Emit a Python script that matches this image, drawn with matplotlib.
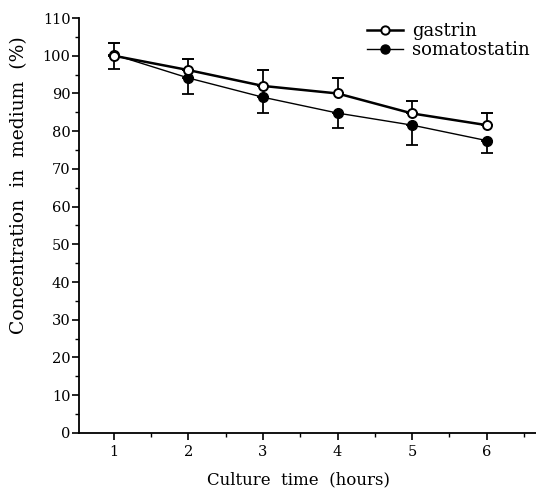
import numpy as np
import matplotlib
matplotlib.use("Agg")
import matplotlib.pyplot as plt
from matplotlib.ticker import MultipleLocator
from matplotlib.lines import Line2D

plt.rcParams['font.family'] = ['DejaVu Serif']

hours = [1, 2, 3, 4, 5, 6]
gastrin = [100.0, 96.2, 92.0, 90.0, 84.7, 81.6]
gastrin_err_up = [3.5, 3.0, 4.2, 4.2, 3.3, 3.1]
somatostatin = [100.3, 94.1, 89.0, 84.8, 81.6, 77.5]
somatostatin_err_down = [3.8, 4.3, 4.3, 3.9, 5.3, 3.2]

fig = plt.figure(figsize=(5.36, 4.88), dpi=100)
ax = fig.add_axes([0.147, 0.113, 0.853, 0.85])

ax.errorbar(hours, gastrin, yerr=[np.zeros(len(hours)), gastrin_err_up],
            color='black', lw=1.8, marker='o', ms=6.5, mfc='white', mec='black', mew=1.4,
            ecolor='black', elinewidth=1.3, capsize=4, capthick=1.3, zorder=3)
ax.errorbar(hours, somatostatin, yerr=[somatostatin_err_down, np.zeros(len(hours))],
            color='black', lw=1.0, marker='o', ms=7, mfc='black', mec='black',
            ecolor='black', elinewidth=1.3, capsize=4, capthick=1.3, zorder=2)

ax.set_xlim(0.53, 6.66)
ax.set_ylim(0, 110)
ax.xaxis.set_major_locator(MultipleLocator(1))
ax.xaxis.set_minor_locator(MultipleLocator(0.5))
ax.yaxis.set_major_locator(MultipleLocator(10))
ax.yaxis.set_minor_locator(MultipleLocator(5))
ax.spines['top'].set_visible(False)
ax.spines['right'].set_visible(False)
ax.spines['left'].set_linewidth(1.3)
ax.spines['bottom'].set_linewidth(1.3)
ax.tick_params(which='major', length=5, width=1.2, labelsize=10.5, pad=1)
ax.tick_params(which='minor', length=3, width=1.0)
ax.tick_params(axis='x', pad=4)

ax.set_xlabel('Culture  time  (hours)', fontsize=12)
ax.xaxis.set_label_coords(0.481, -0.092)
ax.set_ylabel('Concentration  in  medium  (%)', fontsize=13.5)
ax.yaxis.set_label_coords(-0.11, 0.598)

handles = [
    Line2D([], [], color='black', lw=1.8, marker='o', ms=6, mfc='white', mec='black', mew=1.4),
    Line2D([], [], color='black', lw=1.0, marker='o', ms=6.5, mfc='black', mec='black'),
]
ax.legend(handles, ['gastrin', 'somatostatin'], loc='upper right', bbox_to_anchor=(1.01, 1.016),
          frameon=False, fontsize=13, handlelength=2.0, handletextpad=0.5,
          labelspacing=0.05, borderaxespad=0.2)

fig.savefig('out.png', dpi=100)
